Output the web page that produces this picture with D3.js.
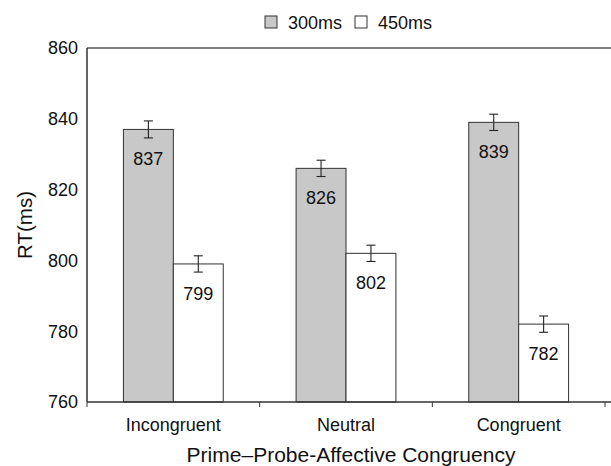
<!DOCTYPE html>
<html>
<head>
<meta charset="utf-8">
<script src="https://cdn.jsdelivr.net/npm/d3@7"></script>
<style>
  body { margin: 0; background: #fff; }
  text { font-family: "Liberation Sans", Arial, sans-serif; fill: #111; }
</style>
</head>
<body>
<div id="chart"></div>
<script>
const categories = ['Incongruent', 'Neutral', 'Congruent'];
const seriesNames = ['300ms', '450ms'];
const values300 = [837, 826, 839];
const values450 = [799, 802, 782];
const errors300 = [2.4, 2.3, 2.3];
const errors450 = [2.3, 2.3, 2.3];
const yTicks = [760, 780, 800, 820, 840, 860];

const width = 611;
const height = 466;
const margin = { top: 48, right: 6, bottom: 64, left: 87 };
const fills = ['#c8c8c8', '#ffffff'];

const svg = d3.select('#chart').append('svg')
  .attr('width', width)
  .attr('height', height);

const x = d3.scaleBand()
  .domain(categories)
  .range([margin.left, width - margin.right])
  .paddingInner(0)
  .paddingOuter(0);

const inner = d3.scaleBand()
  .domain(seriesNames)
  .range([0, x.bandwidth()])
  .paddingOuter(0.73)
  .paddingInner(0);

const y = d3.scaleLinear()
  .domain([760, 860])
  .range([height - margin.bottom, margin.top]);

// top frame line
svg.append('line')
  .attr('x1', margin.left).attr('x2', width)
  .attr('y1', y(860)).attr('y2', y(860))
  .attr('stroke', '#555').attr('stroke-width', 1.3);

// rows of data
const rows = [];
categories.forEach((c, i) => {
  rows.push({ cat: c, s: seriesNames[0], v: values300[i], e: errors300[i], k: 0 });
  rows.push({ cat: c, s: seriesNames[1], v: values450[i], e: errors450[i], k: 1 });
});

const cx = d => x(d.cat) + inner(d.s) + inner.bandwidth() / 2;

const g = svg.append('g');

g.selectAll('rect.bar')
  .data(rows)
  .enter()
  .append('rect')
  .attr('class', 'bar')
  .attr('x', d => x(d.cat) + inner(d.s))
  .attr('y', d => y(d.v))
  .attr('width', inner.bandwidth())
  .attr('height', d => y(760) - y(d.v))
  .attr('fill', d => fills[d.k])
  .attr('stroke', '#333')
  .attr('stroke-width', 1);

// error bars
const cap = 4.5;
const eb = g.selectAll('g.err')
  .data(rows)
  .enter()
  .append('g')
  .attr('class', 'err')
  .attr('stroke', '#222')
  .attr('stroke-width', 1.1);

eb.append('line')
  .attr('x1', cx).attr('x2', cx)
  .attr('y1', d => y(d.v + d.e))
  .attr('y2', d => y(d.v - d.e));
eb.append('line')
  .attr('x1', d => cx(d) - cap)
  .attr('x2', d => cx(d) + cap)
  .attr('y1', d => y(d.v + d.e))
  .attr('y2', d => y(d.v + d.e));
eb.append('line')
  .attr('x1', d => cx(d) - cap)
  .attr('x2', d => cx(d) + cap)
  .attr('y1', d => y(d.v - d.e))
  .attr('y2', d => y(d.v - d.e));

// value labels
g.selectAll('text.val')
  .data(rows)
  .enter()
  .append('text')
  .attr('class', 'val')
  .attr('x', cx)
  .attr('y', d => y(d.v) + 36)
  .attr('text-anchor', 'middle')
  .attr('font-size', 18)
  .text(d => d.v);

// y axis
svg.append('line')
  .attr('x1', margin.left).attr('x2', margin.left)
  .attr('y1', y(860)).attr('y2', y(760))
  .attr('stroke', '#333').attr('stroke-width', 1.5);

svg.selectAll('text.ytick')
  .data(yTicks)
  .enter()
  .append('text')
  .attr('class', 'ytick')
  .attr('x', margin.left - 9)
  .attr('y', d => y(d))
  .attr('dy', '0.35em')
  .attr('text-anchor', 'end')
  .attr('font-size', 18)
  .text(d => d);

// x axis
svg.append('line')
  .attr('x1', margin.left).attr('x2', width)
  .attr('y1', y(760)).attr('y2', y(760))
  .attr('stroke', '#333').attr('stroke-width', 1.5);

const boundaries = categories.map(c => x(c)).concat([x(categories[2]) + x.bandwidth()]);
svg.selectAll('line.xtick')
  .data(boundaries)
  .enter()
  .append('line')
  .attr('class', 'xtick')
  .attr('x1', d => d).attr('x2', d => d)
  .attr('y1', y(760)).attr('y2', y(760) + 5)
  .attr('stroke', '#333').attr('stroke-width', 1);

svg.selectAll('text.xlab')
  .data(categories)
  .enter()
  .append('text')
  .attr('class', 'xlab')
  .attr('x', d => x(d) + x.bandwidth() / 2)
  .attr('y', 431)
  .attr('text-anchor', 'middle')
  .attr('font-size', 18)
  .text(d => d);

// axis titles
svg.append('text')
  .attr('x', (margin.left + width - margin.right) / 2 + 5)
  .attr('y', 462)
  .attr('text-anchor', 'middle')
  .attr('font-size', 21)
  .text('Prime–Probe-Affective Congruency');

svg.append('text')
  .attr('transform', `translate(32,${(y(760) + y(860)) / 2}) rotate(-90)`)
  .attr('text-anchor', 'middle')
  .attr('font-size', 20.5)
  .text('RT(ms)');

// legend
const legend = svg.append('g');
const legendX = [265, 355];
seriesNames.forEach((s, i) => {
  legend.append('rect')
    .attr('x', legendX[i]).attr('y', 16)
    .attr('width', 12).attr('height', 12)
    .attr('fill', fills[i])
    .attr('stroke', '#333').attr('stroke-width', 1);
  legend.append('text')
    .attr('x', legendX[i] + 23).attr('y', 28.5)
    .attr('font-size', 18)
    .text(s);
});
</script>
</body>
</html>
